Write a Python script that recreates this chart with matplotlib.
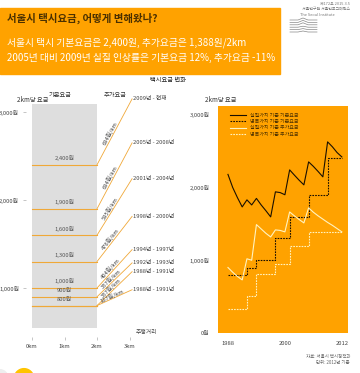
import math
import matplotlib
matplotlib.use('Agg')
import matplotlib.pyplot as plt
from matplotlib.patches import Rectangle, Circle
from matplotlib.lines import Line2D

plt.rcParams['font.family'] = ['Noto Sans CJK KR', 'DejaVu Sans']

W, H = 360, 373
ORANGE = '#FFA200'
GOLD = '#F0A838'
DARK = '#4a3000'

# ---- left chart: base fare (2km) + per km extra fare
base_fares = [2400, 1900, 1600, 1300, 1000, 900, 800, 800]
base_labels = ['2,400원', '1,900원', '1,600원', '1,300원', '1,000원', '900원', '800원', '']
per_km = [694, 694, 595, 476, 404, 357, 357, 167]
periods = ['2009년 - 현재', '2005년 - 2008년', '2001년 - 2004년', '1998년 - 2000년',
           '1994년 - 1997년', '1992년 - 1993년', '1988년 - 1991년', '1988년 - 1991년']

# ---- right chart: fare per 2km, 1988-2012
years = list(range(1988, 2013))
real_base = [2180, 2000, 1860, 1733, 1830, 1760, 1850, 1760, 1680, 1596, 1940, 1930, 1900,
             2242, 2170, 2100, 2036, 2352, 2290, 2220, 2146, 2627, 2560, 2480, 2420]
nom_base = [800, 800, 800, 800, 900, 900, 1000, 1000, 1000, 1000, 1300, 1300, 1300,
            1600, 1600, 1600, 1600, 1900, 1900, 1900, 1900, 2400, 2400, 2400, 2400]
real_add = [900, 835, 777, 730, 1020, 1000, 1490, 1430, 1370, 1320, 1417, 1410, 1390,
            1664, 1610, 1560, 1513, 1720, 1660, 1610, 1565, 1520, 1480, 1435, 1390]
nom_add = [334, 334, 334, 334, 504, 504, 808, 808, 808, 808, 952, 952, 952,
           1190, 1190, 1190, 1190, 1388, 1388, 1388, 1388, 1388, 1388, 1388, 1388]


def px_axes(l, t, r, b):
    return fig.add_axes([l / W, 1 - b / H, (r - l) / W, (b - t) / H])


def ftext(x, y, s, **kw):
    fig.text(x / W, 1 - y / H, s, **kw)


fig = plt.figure(figsize=(3.6, 3.73), dpi=100)

# header
fig.patches.append(Rectangle((0, 1 - 74 / H), 280 / W, 66 / H, transform=fig.transFigure,
                             color=ORANGE, zorder=0))
ftext(7, 18, '서울시 택시요금, 어떻게 변해왔나?', fontsize=7.5, fontweight='bold',
      color=DARK, va='center', zorder=5)
ftext(7, 43, '서울시 택시 기본요금은 2,400원, 추가요금은 1,388원/2km', fontsize=7,
      color='white', va='center')
ftext(7, 58, '2005년 대비 2009년 실질 인상률은 기본요금 12%, 추가요금 -11%', fontsize=7,
      color='white', va='center')

# logo corner
ftext(350, 4, '제172호 2015.3.5', fontsize=2.8, color='#777', ha='right', va='center')
ftext(350, 9, '서울연구원 서울인포그래픽스', fontsize=2.8, color='#777', ha='right', va='center')
ftext(300, 15, 'The Seoul Institute', fontsize=2.8, color='#777', ha='left', va='center')
for i in range(6):
    yy = 19 + i * 2.4
    xs = [290, 298, 303, 308, 317]
    ys = [yy + 1, yy + 1, yy - 1 if i < 3 else yy, yy + 1, yy + 1]
    fig.add_artist(Line2D([x / W for x in xs], [1 - y / H for y in ys],
                          transform=fig.transFigure, color='#888', lw=0.5))

ftext(168, 80, '택시요금 변화', fontsize=4.5, color='#222', ha='center', va='center')

# ---- left chart
ax = px_axes(26, 95, 200, 337)
ax.set_xlim((26 - 32) / 32.5, (200 - 32) / 32.5)
ax.set_ylim(1000 - (337 - 288) / 0.088, 1000 + (288 - 95) / 0.088)
for s in ax.spines.values():
    s.set_visible(False)
ax.add_patch(Rectangle((0, 550), 2, 2540, color='#DEDEDE', lw=0, zorder=0))
ax.set_yticks([1000, 2000, 3000], ['1,000원', '2,000원', '3,000원'])
ax.set_xticks([0, 1, 2, 3], ['0km', '1km', '2km', '3km'])
ax.tick_params(axis='both', length=2, width=0.4, color='#999', labelsize=4.2,
               labelcolor='#444', pad=3)

fig.canvas.draw()
dx = 1.08
for base, lab, rate, per in zip(base_fares, base_labels, per_km, periods):
    ax.plot([0, 2], [base, base], color=GOLD, lw=0.8, zorder=2)
    if lab:
        ax.text(1, base + 40, lab, fontsize=4.2, color='#555', ha='center', va='bottom')
    end = base + rate * dx
    ax.plot([2, 2 + dx], [base, end], color=GOLD, lw=0.6, zorder=2)
    p0 = ax.transData.transform((2, base))
    p1 = ax.transData.transform((2 + dx, end))
    ang = math.degrees(math.atan2(p1[1] - p0[1], p1[0] - p0[0]))
    ax.text(2 + dx * 0.45, base + rate * dx * 0.45, f'{rate}원/km', fontsize=4.2,
            color='#444', rotation=ang, rotation_mode='anchor', ha='center', va='bottom')
    ax.text(2 + dx + 0.02, end, per, fontsize=4.2, color='#444', ha='left', va='center')

ax.text(3.2, 443 + 25, '주행거리', fontsize=4.2, color='#444', ha='left', va='bottom')
ftext(33, 100, '2km당 요금', fontsize=4.5, color='#333', ha='center', va='center')
ftext(60, 95, '기본요금', fontsize=4.5, color='#333', ha='center', va='center')
ftext(115, 95, '추가요금', fontsize=4.5, color='#333', ha='center', va='center')

# ---- right chart
ax2 = px_axes(218, 106, 348, 333)
ax2.set_facecolor(ORANGE)
for s in ax2.spines.values():
    s.set_visible(False)
ax2.set_xlim(1985.9, 2013.3)
ax2.set_ylim(0, 3120)
ax2.plot(years, real_base, color='#1a1000', lw=0.8)
ax2.plot(years, nom_base, color='#1a1000', lw=0.8, ls=(0, (1.5, 1)), drawstyle='steps-post')
ax2.plot(years, real_add, color='#FFF3C0', lw=0.8)
ax2.plot(years, nom_add, color='#FFF3C0', lw=0.8, ls=(0, (1.5, 1)), drawstyle='steps-post')
ax2.set_yticks([0, 1000, 2000, 3000], ['0원', '1,000원', '2,000원', '3,000원'])
ax2.set_xticks([1988, 2000, 2012], ['1988', '2000', '2012'])
ax2.tick_params(axis='both', length=0, labelsize=4.2, labelcolor='#444', pad=6)
handles = [Line2D([], [], color='#1a1000', lw=0.8),
           Line2D([], [], color='#1a1000', lw=0.8, ls=(0, (1.5, 1))),
           Line2D([], [], color='#FFF3C0', lw=0.8),
           Line2D([], [], color='#FFF3C0', lw=0.8, ls=(0, (1.5, 1)))]
ax2.legend(handles, ['실질가치 기준 기본요금', '명목가치 기준 기본요금',
                     '실질가치 기준 추가요금', '명목가치 기준 추가요금'],
           loc='upper left', bbox_to_anchor=(0.06, 0.99), fontsize=3.6, frameon=False,
           handlelength=3.2, labelspacing=0.25, handletextpad=0.8, labelcolor=DARK)
ftext(221, 100, '2km당 요금', fontsize=4.5, color='#333', ha='center', va='center')

ftext(350, 356, '자료: 서울시 택시정책과', fontsize=3.2, color='#666', ha='right', va='center')
ftext(350, 363, '단위: 2012년 기준', fontsize=3.2, color='#666', ha='right', va='center')

fig.patches.append(Circle((24 / W, 1 - 379 / H), 10 / W, transform=fig.transFigure,
                          color='#FFC400', zorder=0))
fig.patches.append(Circle((0, 1 - 378 / H), 8 / W, transform=fig.transFigure,
                          color='#EEEEEE', zorder=0))

fig.savefig('out.png', dpi=100)
